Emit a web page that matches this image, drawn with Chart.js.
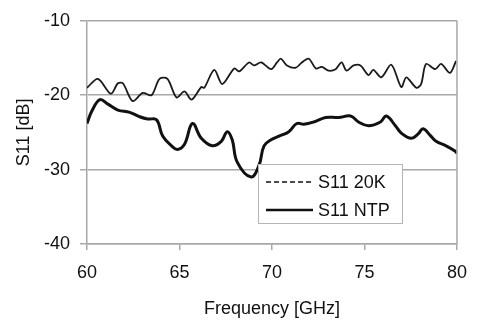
<!DOCTYPE html>
<html>
<head>
<meta charset="utf-8">
<script src="https://cdn.jsdelivr.net/npm/chart.js@4/dist/chart.umd.min.js"></script>
<style>
  html, body { margin: 0; padding: 0; background: #fff; }
  #wrap { width: 479px; height: 320px; }
</style>
</head>
<body>
<div id="wrap"><canvas id="canvas-1" width="479" height="320"></canvas></div>
<script>
// S11 20K (thin, dashed in legend)
var freq20k = [60.0, 60.59, 61.29, 61.67, 61.94, 62.47, 63.01, 63.49, 63.92, 64.35, 64.84, 65.27,
  65.65, 66.18, 66.34, 66.88, 67.31, 67.96, 68.23, 68.76, 69.03, 69.41, 69.95, 70.27, 70.48,
  70.81, 71.29, 71.61, 71.99, 72.37, 72.69, 73.06, 73.44, 73.76, 74.03, 74.41, 74.78, 75.22,
  75.48, 75.91, 76.45, 76.99, 77.26, 77.80, 78.06, 78.33, 78.82, 79.14, 79.62, 79.95];
var s11_20k = [-19.0, -17.8, -19.8, -18.4, -18.4, -20.8, -19.7, -20.0, -17.8, -17.8, -20.3, -19.5,
  -20.6, -18.9, -19.0, -16.6, -18.5, -16.4, -16.8, -15.6, -16.0, -15.6, -16.5, -15.6, -15.1,
  -16.0, -16.3, -15.6, -15.1, -16.4, -16.2, -16.7, -16.5, -15.6, -16.7, -16.0, -16.0, -17.3,
  -16.6, -17.6, -15.9, -18.9, -17.6, -19.0, -18.5, -15.8, -16.5, -15.8, -17.0, -15.4];

// S11 NTP (thick solid)
var freqNtp = [60.0, 60.27, 60.70, 61.13, 61.67, 62.31, 62.85, 63.28, 63.76, 64.09, 64.57, 64.89,
  65.27, 65.70, 66.18, 66.77, 67.26, 67.58, 67.85, 68.12, 68.87, 69.30, 69.57, 69.95, 70.38,
  70.91, 71.34, 71.72, 72.26, 72.90, 73.60, 74.25, 74.68, 75.22, 75.86, 76.18, 76.67, 76.99,
  77.53, 77.90, 78.17, 78.55, 78.87, 79.41, 79.89, 80.0];
var s11Ntp = [-23.8, -22.1, -20.6, -21.2, -22.0, -22.3, -22.9, -23.2, -23.3, -25.5, -26.8, -27.3,
  -26.6, -23.8, -25.8, -26.8, -26.2, -24.9, -26.0, -29.0, -31.0, -29.4, -26.8, -26.0, -25.5,
  -24.9, -23.8, -23.9, -23.6, -23.0, -23.0, -22.8, -23.6, -24.1, -23.6, -22.8, -24.1, -25.1,
  -25.8, -25.2, -24.5, -25.4, -26.2, -26.8, -27.5, -27.8];

var xTicks = [60, 65, 70, 75, 80];
var yTicks = [-40, -30, -20, -10];

function toPoints(xs, ys) {
  return xs.map(function (x, i) { return { x: x, y: ys[i] }; });
}

var FONT = 'Liberation Sans, Arial, sans-serif';
var GREY = '#a8a8a8';

// right frame line + legend box inside the plot
var framePlugin = {
  id: 'frame',
  afterDraw: function (chart) {
    var ctx = chart.ctx, a = chart.chartArea;
    ctx.save();
    ctx.strokeStyle = GREY;
    ctx.lineWidth = 1.5;
    ctx.beginPath();
    ctx.moveTo(a.right, a.top);
    ctx.lineTo(a.right, a.bottom);
    ctx.stroke();

    // legend
    var x0 = 258.5, y0 = 164.5, w = 144, h = 59;
    ctx.fillStyle = '#fff';
    ctx.fillRect(x0, y0, w, h);
    ctx.strokeStyle = '#b5b5b5';
    ctx.lineWidth = 1;
    ctx.strokeRect(x0, y0, w, h);
    ctx.font = '18px ' + FONT;
    ctx.fillStyle = '#111';
    ctx.textBaseline = 'middle';
    chart.data.datasets.forEach(function (ds, i) {
      var y = 182 + i * 28;
      ctx.strokeStyle = '#111';
      ctx.lineWidth = i === 0 ? 1.5 : 2.5;
      ctx.setLineDash(i === 0 ? [5, 3] : []);
      ctx.beginPath();
      ctx.moveTo(266, y);
      ctx.lineTo(313, y);
      ctx.stroke();
      ctx.setLineDash([]);
      ctx.fillText(ds.label, 318, y + 1);
    });
    ctx.restore();
  }
};

var ctx = document.getElementById('canvas-1');
var chart = new Chart(ctx, {
  type: 'line',
  data: {
    datasets: [
      {
        label: 'S11 20K',
        data: toPoints(freq20k, s11_20k),
        borderColor: '#1a1a1a',
        borderWidth: 1.8,
        pointRadius: 0,
        tension: 0.3,
        fill: false
      },
      {
        label: 'S11 NTP',
        data: toPoints(freqNtp, s11Ntp),
        borderColor: '#111',
        borderWidth: 3,
        pointRadius: 0,
        tension: 0.4,
        fill: false
      }
    ]
  },
  options: {
    responsive: false,
    animation: false,
    layout: { padding: { top: 14, right: 20, left: 0, bottom: 0 } },
    plugins: { legend: { display: false }, tooltip: { enabled: false } },
    scales: {
      x: {
        type: 'linear',
        min: 60, max: 80,
        afterFit: function (s) { s.height = 76; },
        afterBuildTicks: function (s) { s.ticks = xTicks.map(function (v) { return { value: v }; }); },
        grid: { drawOnChartArea: false, drawTicks: true, tickLength: 6, color: GREY, lineWidth: 1.5 },
        border: { color: GREY, width: 1.5 },
        ticks: { padding: 12, color: '#111', font: { family: FONT, size: 18 } },
        title: { display: true, text: 'Frequency [GHz]', color: '#111', padding: { top: 7, bottom: 0 },
          font: { family: FONT, size: 18 } }
      },
      y: {
        min: -40, max: -10,
        afterFit: function (s) { s.width = 87; },
        afterBuildTicks: function (s) { s.ticks = yTicks.map(function (v) { return { value: v }; }); },
        grid: { color: GREY, lineWidth: 1.5, drawTicks: true, tickLength: 7, tickColor: GREY },
        border: { color: GREY, width: 1.5 },
        ticks: { padding: 10, color: '#111', font: { family: FONT, size: 18 } },
        title: { display: true, text: 'S11 [dB]', color: '#111', padding: { top: 13, bottom: 0 },
          font: { family: FONT, size: 18 } }
      }
    }
  },
  plugins: [framePlugin]
});
</script>
</body>
</html>
